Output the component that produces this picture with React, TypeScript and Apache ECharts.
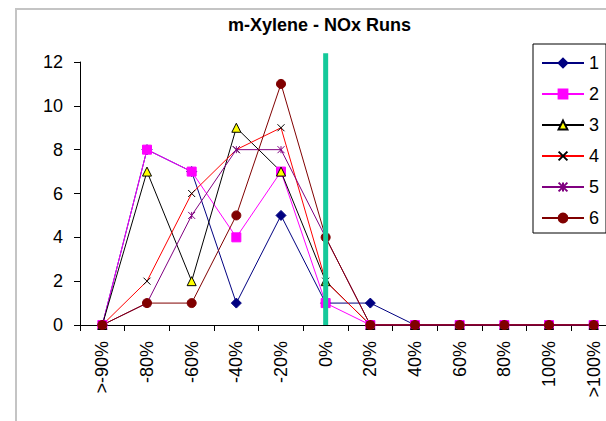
import React, { useEffect, useRef } from "react";
import * as echarts from "echarts";

// Bias bins for the run-count distribution
const categories = [">-90%", "-80%", "-60%", "-40%", "-20%", "0%", "20%", "40%", "60%", "80%", "100%", ">100%"];

// Number of runs falling into each bin, per run set
const run1 = [0, 8, 7, 1, 5, 1, 1, 0, 0, 0, 0, 0];
const run2 = [0, 8, 7, 4, 7, 1, 0, 0, 0, 0, 0, 0];
const run3 = [0, 7, 2, 9, 7, 2, 0, 0, 0, 0, 0, 0];
const run4 = [0, 2, 6, 8, 9, 2, 0, 0, 0, 0, 0, 0];
const run5 = [0, 1, 5, 8, 8, 4, 0, 0, 0, 0, 0, 0];
const run6 = [0, 1, 1, 5, 11, 4, 0, 0, 0, 0, 0, 0];

const seriesNames = ["1", "2", "3", "4", "5", "6"];
const yTicks = { min: 0, max: 12, interval: 2 };

// Zero-bias reference line: bin and the height it reaches
const zeroLine = [["0%", 12.4]];

const FONT = "'Liberation Sans', Arial, sans-serif";
const CROSS = "path://M0,0L10,10M10,0L0,10";
const STAR = "path://M0,0L10,10M10,0L0,10M5,0L5,10";

export default function App() {
  const ref = useRef<HTMLDivElement>(null);

  useEffect(() => {
    if (!ref.current) return;
    const chart = echarts.init(ref.current, undefined, { renderer: "svg" });

    const line = (name: string, data: number[], lineColor: string, symbol: string, size: number, fill: string, border: string) => ({
      name,
      type: "line",
      data,
      symbol,
      symbolSize: size,
      showAllSymbol: true,
      lineStyle: { color: lineColor, width: 1 },
      itemStyle: { color: fill, borderColor: border, borderWidth: 1 },
      emphasis: { disabled: true },
    });

    chart.setOption({
      animation: false,
      textStyle: { fontFamily: FONT },
      graphic: [
        {
          type: "rect",
          shape: { x: 16, y: 9, width: 700, height: 500 },
          style: { fill: "none", stroke: "#c4c4c4", lineWidth: 2 },
          silent: true,
          z: -10,
        },
      ],
      title: {
        text: "m-Xylene - NOx Runs",
        left: 228,
        top: 16,
        padding: 0,
        textStyle: { fontFamily: FONT, fontSize: 18, fontWeight: "bold", color: "#000" },
      },
      legend: {
        data: seriesNames,
        orient: "vertical",
        left: 533,
        top: 44,
        padding: [10, 7, 6, 8],
        itemWidth: 42,
        itemHeight: 11,
        itemGap: 13,
        borderColor: "#000",
        borderWidth: 1,
        backgroundColor: "#fff",
        textStyle: { fontFamily: FONT, fontSize: 18, lineHeight: 18, color: "#000" },
      },
      grid: { left: 80, top: 62, width: 536, height: 263, containLabel: false },
      xAxis: {
        type: "category",
        data: categories,
        boundaryGap: true,
        axisLine: { lineStyle: { color: "#000", width: 1 } },
        axisTick: { show: true, length: 6, lineStyle: { color: "#000" } },
        axisLabel: { interval: 0, rotate: 90, margin: 16, fontSize: 18, color: "#000", fontFamily: FONT },
        splitLine: { show: false },
      },
      yAxis: {
        type: "value",
        min: yTicks.min,
        max: yTicks.max,
        interval: yTicks.interval,
        axisLine: { show: true, lineStyle: { color: "#000", width: 1 } },
        axisTick: { show: true, length: 6, lineStyle: { color: "#000" } },
        axisLabel: { margin: 17, fontSize: 18, color: "#000", fontFamily: FONT },
        splitLine: { show: false },
      },
      series: [
        line("1", run1, "#000080", "diamond", 10, "#000080", "#000080"),
        line("2", run2, "#ff00ff", "rect", 9, "#ff00ff", "#ff00ff"),
        line("3", run3, "#000000", "triangle", 9, "#ffff00", "#000000"),
        line("4", run4, "#ff0000", CROSS, 7, "rgba(0,0,0,0)", "#000000"),
        line("5", run5, "#800080", STAR, 7, "#800080", "#800080"),
        line("6", run6, "#800000", "circle", 9, "#800000", "#800000"),
        {
          name: "zero",
          type: "custom",
          data: zeroLine,
          z: 10,
          silent: true,
          renderItem: (_params: any, api: any) => {
            const top = api.coord([api.value(0), api.value(1)]);
            const bottom = api.coord([api.value(0), 0]);
            return {
              type: "line",
              shape: { x1: top[0], y1: top[1], x2: bottom[0], y2: bottom[1] },
              style: { stroke: "#14c99a", lineWidth: 5 },
            };
          },
        },
      ],
    });

    return () => chart.dispose();
  }, []);

  // The plot area runs past the right edge of the frame, so the chart
  // canvas is wider than the visible window and clipped by it.
  return (
    <div style={{ position: "fixed", left: 0, top: 0, width: 606, height: 421, overflow: "hidden", background: "#fff" }}>
      <div ref={ref} style={{ width: 640, height: 421 }} />
    </div>
  );
}
